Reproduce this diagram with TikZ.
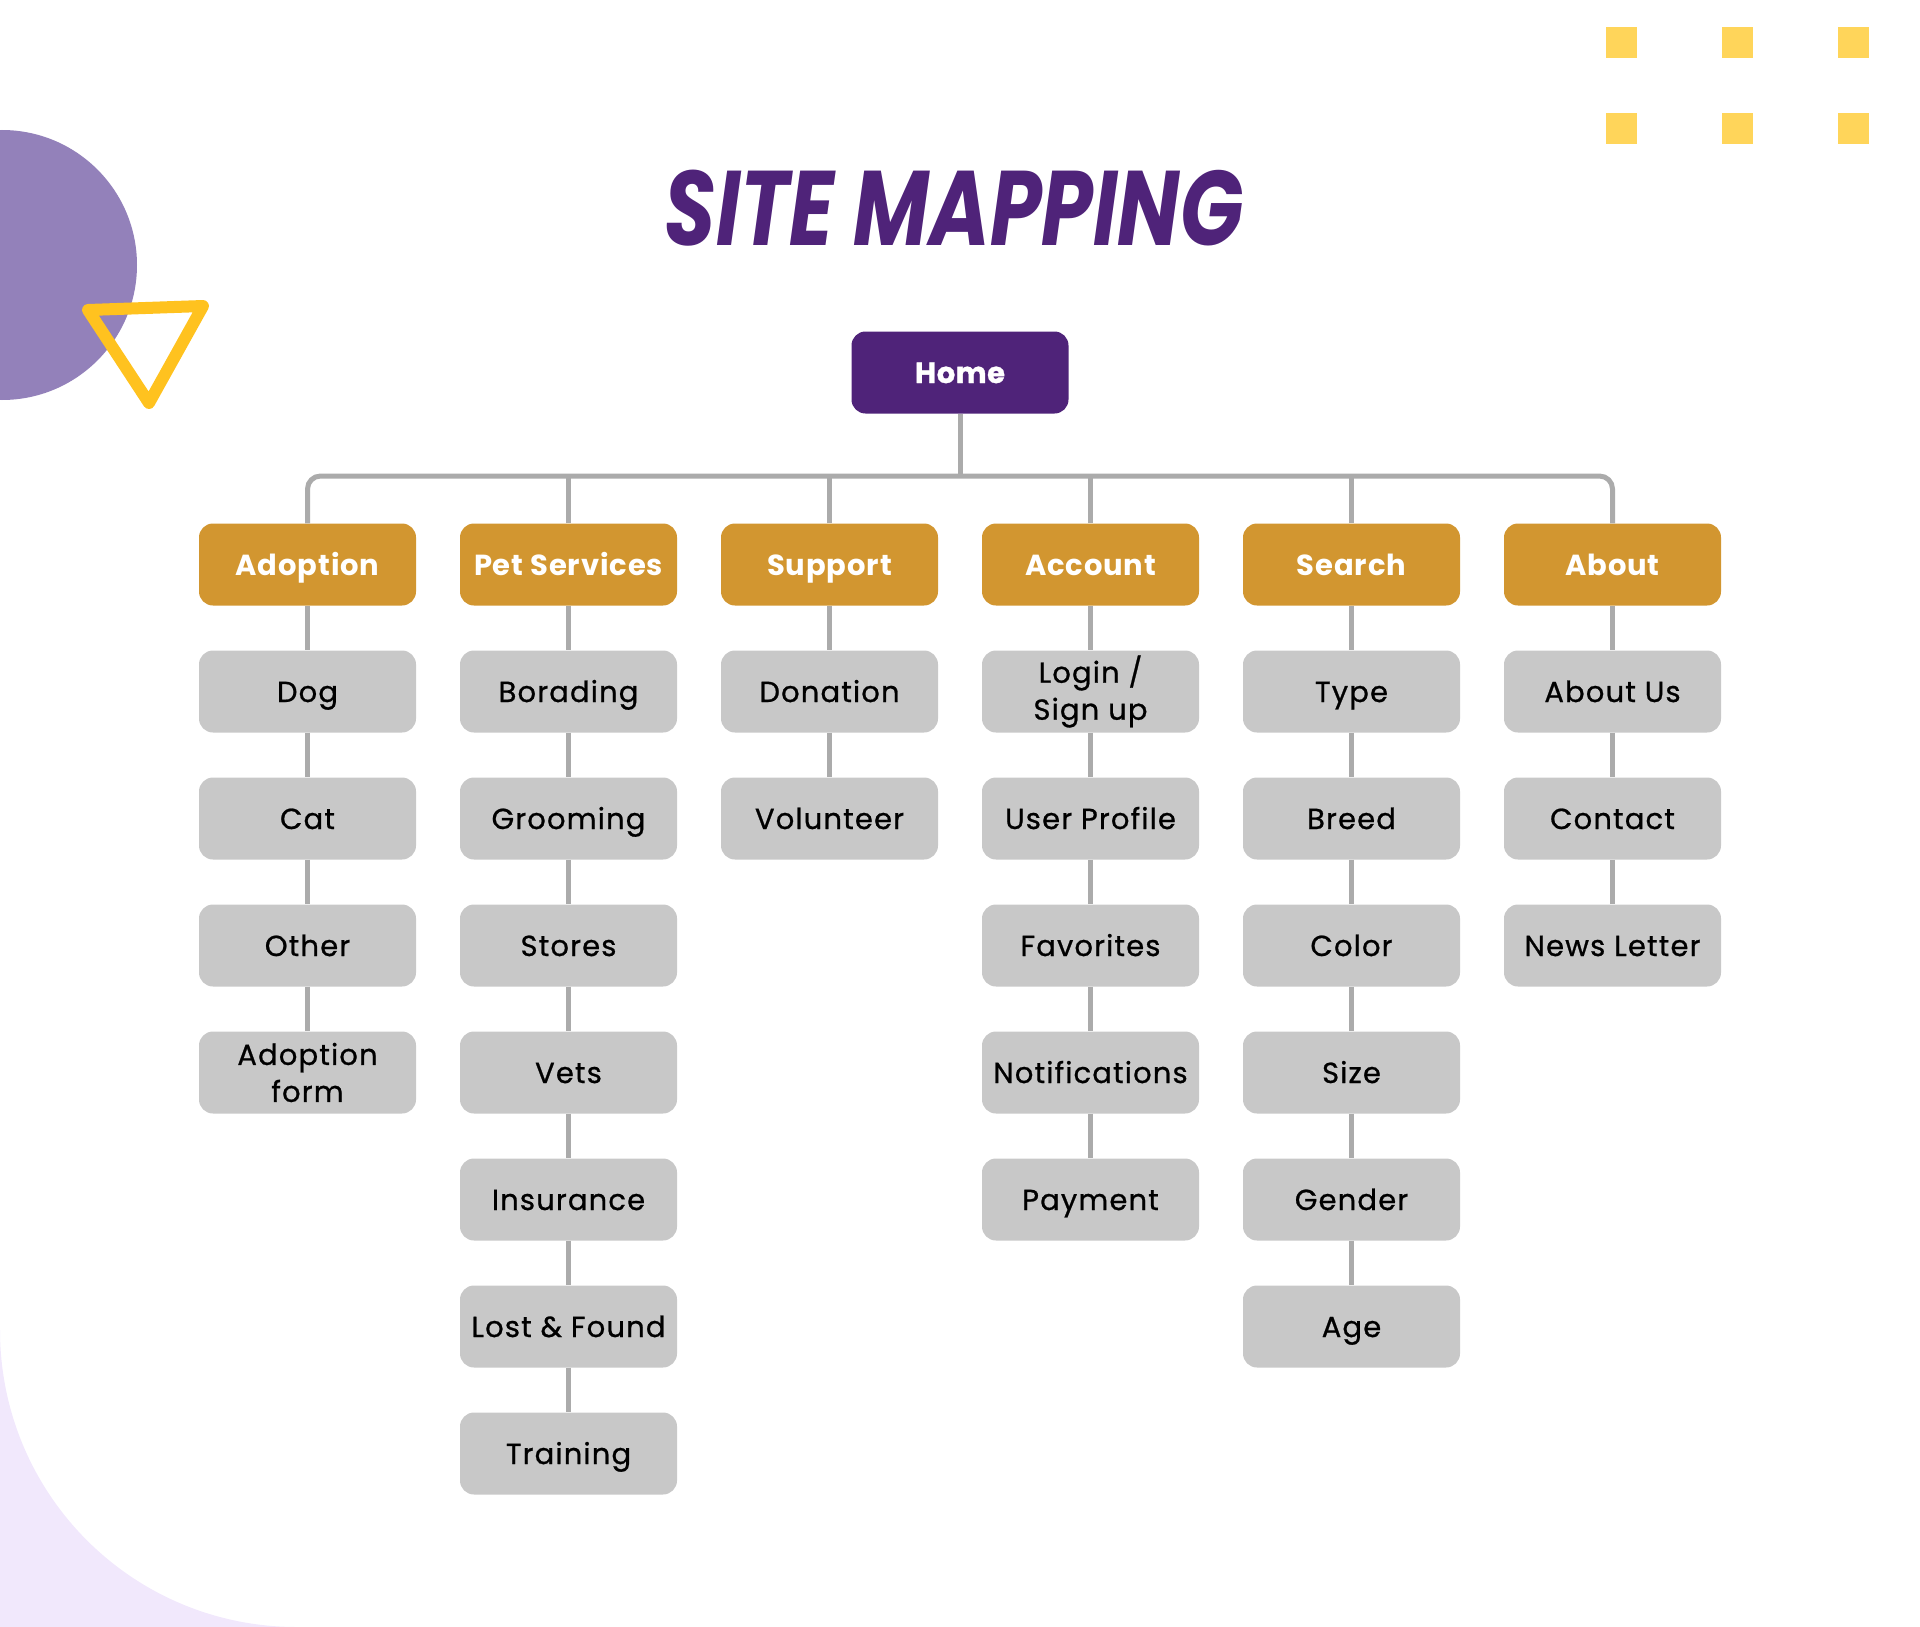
\documentclass[tikz,border=0pt]{standalone}
\usepackage{fontspec}
\setmainfont{Poppins}
\newfontfamily\titlefont{Poppins}
\newfontfamily\leaffont{Poppins}[FakeBold=0.8, LetterSpace=4]
\newfontfamily\catfont{Poppins}[LetterSpace=3]
\newfontfamily\homefont{Poppins}[FakeBold=1.2, LetterSpace=2]
\definecolor{homepurple}{RGB}{79,35,121}
\definecolor{catgold}{RGB}{210,150,48}
\definecolor{boxgray}{RGB}{200,200,200}
\definecolor{linegray}{RGB}{171,171,171}
\definecolor{circpurple}{RGB}{147,129,186}
\definecolor{triyellow}{RGB}{255,194,31}
\definecolor{sqyellow}{RGB}{255,213,90}
\definecolor{lav}{RGB}{241,232,252}
\newcommand\nodefont{\fontsize{29}{37}\selectfont}
\begin{document}
\begin{tikzpicture}[x=1pt,y=-1pt,
  box/.style={rounded corners=14pt, minimum width=217pt, minimum height=82pt, inner sep=0pt, align=center},
  leaf/.style={box, fill=boxgray, text=black, font=\leaffont\nodefont},
  cat/.style={box, fill=catgold, text=white, font=\catfont\nodefont\bfseries},
  homebox/.style={box, fill=homepurple, text=white, font=\homefont\nodefont\bfseries},
  one/.style={text height=21pt, text depth=0pt},
  link/.style={draw=linegray, line width=5pt}]
\useasboundingbox (0,0) rectangle (1920,1627);
% background decorations
\fill[lav] (0,1330) .. controls (0,1494) and (132,1627) .. (297,1627) -- (0,1627) -- cycle;
\fill[circpurple] (2,265) circle[radius=135pt];
\draw[triyellow, line width=12pt, line join=round] (88,310) -- (203,306) -- (149,403) -- cycle;
\foreach \sx in {1606,1722,1838} \foreach \sy in {27,113} \fill[sqyellow] (\sx,\sy) rectangle ++(31,31);
% title
\node[anchor=base, text=homepurple, font=\titlefont\fontsize{106}{106}\selectfont\bfseries\itshape] (title) at (954,245) {\scalebox{0.78}[1]{SITE MAPPING}};
% home
\node[homebox, one] (home) at (960,372.5) {Home};
\coordinate (bus) at (960,476);
% categories
\node[cat, one] (a0) at (307.5,564.5) {Adoption};
\node[cat, one] (b0) at (568.5,564.5) {Pet Services};
\node[cat, one] (c0) at (829.5,564.5) {Support};
\node[cat, one] (d0) at (1090.5,564.5) {Account};
\node[cat, one] (e0) at (1351.5,564.5) {Search};
\node[cat, one] (f0) at (1612.5,564.5) {About};
% Adoption column
\node[leaf, one] (a1) at (307.5,691.5) {Dog};
\node[leaf, one] (a2) at (307.5,818.5) {Cat};
\node[leaf, one] (a3) at (307.5,945.5) {Other};
\node[leaf] (a4) at (307.5,1072.5) {Adoption\\form};
% Pet Services column
\node[leaf, one] (b1) at (568.5,691.5) {Borading};
\node[leaf, one] (b2) at (568.5,818.5) {Grooming};
\node[leaf, one] (b3) at (568.5,945.5) {Stores};
\node[leaf, one] (b4) at (568.5,1072.5) {Vets};
\node[leaf, one] (b5) at (568.5,1199.5) {Insurance};
\node[leaf, one] (b6) at (568.5,1326.5) {Lost \& Found};
\node[leaf, one] (b7) at (568.5,1453.5) {Training};
% Support column
\node[leaf, one] (c1) at (829.5,691.5) {Donation};
\node[leaf, one] (c2) at (829.5,818.5) {Volunteer};
% Account column
\node[leaf] (d1) at (1090.5,691.5) {Login /\\Sign up};
\node[leaf, one] (d2) at (1090.5,818.5) {User Profile};
\node[leaf, one] (d3) at (1090.5,945.5) {Favorites};
\node[leaf, one] (d4) at (1090.5,1072.5) {Notifications};
\node[leaf, one] (d5) at (1090.5,1199.5) {Payment};
% Search column
\node[leaf, one] (e1) at (1351.5,691.5) {Type};
\node[leaf, one] (e2) at (1351.5,818.5) {Breed};
\node[leaf, one] (e3) at (1351.5,945.5) {Color};
\node[leaf, one] (e4) at (1351.5,1072.5) {Size};
\node[leaf, one] (e5) at (1351.5,1199.5) {Gender};
\node[leaf, one] (e6) at (1351.5,1326.5) {Age};
% About column
\node[leaf, one] (f1) at (1612.5,691.5) {About Us};
\node[leaf, one] (f2) at (1612.5,818.5) {Contact};
\node[leaf, one] (f3) at (1612.5,945.5) {News Letter};
% connectors
\draw[link] (home.south) -- (bus);
\draw[link, rounded corners=13pt] (a0.north) |- (bus) -| (f0.north);
\foreach \n in {b0,c0,d0,e0} \draw[link] (\n.north) -- (\n.north |- bus);
\foreach \p/\q in {a0/a1,a1/a2,a2/a3,a3/a4,
  b0/b1,b1/b2,b2/b3,b3/b4,b4/b5,b5/b6,b6/b7,
  c0/c1,c1/c2,
  d0/d1,d1/d2,d2/d3,d3/d4,d4/d5,
  e0/e1,e1/e2,e2/e3,e3/e4,e4/e5,e5/e6,
  f0/f1,f1/f2,f2/f3}
  \draw[link] (\p.south) -- (\q.north);
\end{tikzpicture}
\end{document}
